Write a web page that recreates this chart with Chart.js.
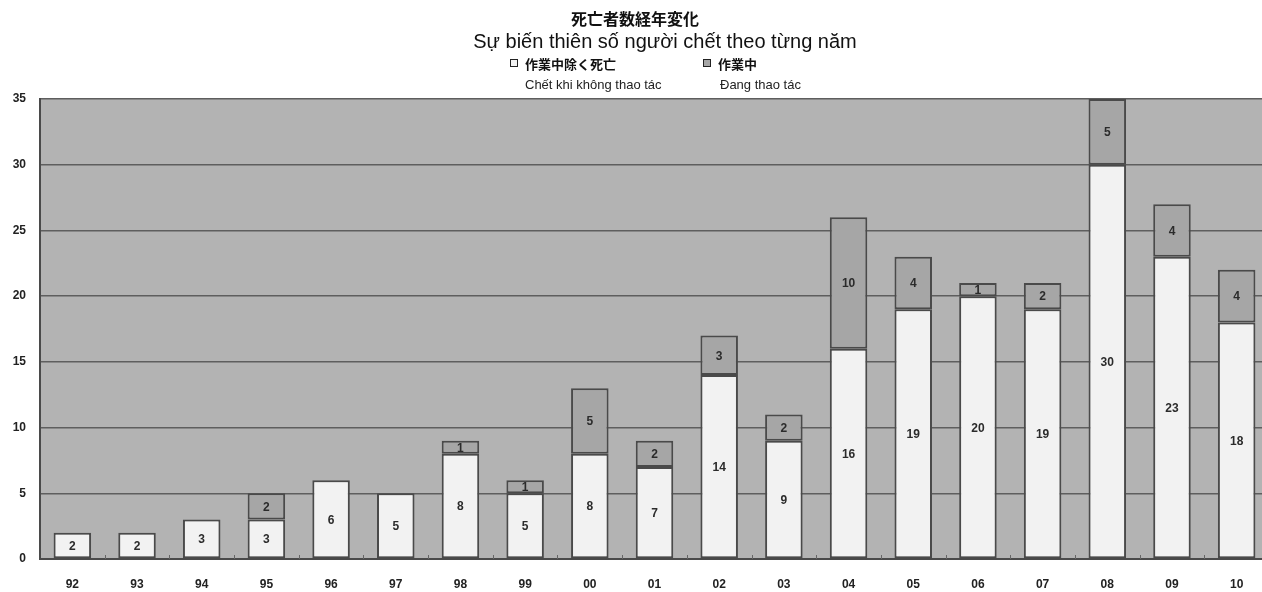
<!DOCTYPE html>
<html>
<head>
<meta charset="utf-8">
<script src="https://cdn.jsdelivr.net/npm/chart.js@4.4.1/dist/chart.umd.min.js"></script>
<style>
  html, body { margin: 0; padding: 0; background: #fff; overflow: hidden; }
  #wrap { position: relative; width: 1270px; height: 592px; }
</style>
</head>
<body>
<div id="wrap"><canvas id="chart"></canvas></div>
<script>
const years = ['92', '93', '94', '95', '96', '97', '98', '99', '00', '01',
  '02', '03', '04', '05', '06', '07', '08', '09', '10'];
const notWorking = [2, 2, 3, 3, 6, 5, 8, 5, 8, 7, 14, 9, 16, 19, 20, 19, 30, 23, 18];
const working = [0, 0, 0, 2, 0, 0, 1, 1, 5, 2, 3, 2, 10, 4, 1, 2, 5, 4, 4];

const titleJa = '死亡者数経年変化';
const titleVi = 'Sự biến thiên số người chết theo từng năm';
const legendJa = ['作業中除く死亡', '作業中'];
const legendVi = ['Chết khi không thao tác', 'Đang thao tác'];

const WHITE = '#f2f2f2';
const GRAY = '#a6a6a6';
const EDGE = '#4a4a4a';
const JA = '"Noto Sans CJK JP", sans-serif';
const VI = '"Liberation Sans", Arial, sans-serif';

// gray plot background
const plotBg = {
  id: 'plotBg',
  beforeDraw(chart) {
    const { ctx, chartArea: a } = chart;
    ctx.save();
    ctx.fillStyle = '#b3b3b3';
    ctx.fillRect(a.left, a.top, a.right - a.left, a.bottom - a.top);
    ctx.restore();
  }
};

// numbers inside each segment
const segLabels = {
  id: 'segLabels',
  afterDatasetsDraw(chart) {
    const { ctx } = chart;
    ctx.save();
    ctx.font = 'bold 12px ' + VI;
    ctx.fillStyle = '#2b2b2b';
    ctx.textAlign = 'center';
    ctx.textBaseline = 'middle';
    chart.data.datasets.forEach((ds, i) => {
      chart.getDatasetMeta(i).data.forEach((el, j) => {
        const v = ds.data[j];
        if (!v) return;
        ctx.fillText(String(v), el.x, (el.y + el.base) / 2 + 1);
      });
    });
    ctx.restore();
  }
};

// small marks between categories, pointing up from the x axis
const catMarks = {
  id: 'catMarks',
  afterDatasetsDraw(chart) {
    const { ctx, chartArea: a } = chart;
    const step = (a.right - a.left) / years.length;
    ctx.save();
    ctx.strokeStyle = '#666';
    ctx.lineWidth = 1;
    for (let i = 1; i < years.length; i++) {
      const px = Math.round(a.left + step * i) + 0.5;
      ctx.beginPath();
      ctx.moveTo(px, a.bottom);
      ctx.lineTo(px, a.bottom - 4);
      ctx.stroke();
    }
    ctx.restore();
  }
};

// title lines and the two-line legend
const header = {
  id: 'header',
  afterDraw(chart) {
    const { ctx } = chart;
    ctx.save();
    ctx.fillStyle = '#111';
    ctx.textAlign = 'center';
    ctx.textBaseline = 'middle';
    ctx.font = 'bold 16px ' + JA;
    ctx.fillText(titleJa, 635, 19);
    ctx.font = '20px ' + VI;
    ctx.fillText(titleVi, 665, 42);

    const boxes = [{ x: 510, fill: WHITE }, { x: 703, fill: GRAY }];
    ctx.textAlign = 'left';
    boxes.forEach((b, i) => {
      ctx.fillStyle = b.fill;
      ctx.fillRect(b.x, 59, 8, 8);
      ctx.strokeStyle = '#222';
      ctx.lineWidth = 1;
      ctx.strokeRect(b.x + 0.5, 59.5, 7, 7);
      ctx.fillStyle = '#111';
      ctx.font = 'bold 13px ' + JA;
      ctx.fillText(legendJa[i], b.x + 15, 64);
      ctx.font = '13px ' + VI;
      ctx.fillStyle = '#222';
      ctx.fillText(legendVi[i], b.x + 15 + (i ? 2 : 0), 85);
    });
    ctx.restore();
  }
};

new Chart(document.getElementById('chart'), {
  type: 'bar',
  data: {
    labels: years,
    datasets: [
      {
        label: legendJa[0],
        data: notWorking,
        backgroundColor: WHITE,
        borderColor: EDGE,
        borderWidth: 2,
        borderSkipped: false,
        categoryPercentage: 1,
        barPercentage: 0.58
      },
      {
        label: legendJa[1],
        data: working,
        backgroundColor: GRAY,
        borderColor: EDGE,
        borderWidth: 2,
        borderSkipped: false,
        categoryPercentage: 1,
        barPercentage: 0.58
      }
    ]
  },
  options: {
    responsive: true,
    maintainAspectRatio: false,
    animation: false,
    layout: { padding: { top: 99, right: 1, left: 0, bottom: 0 } },
    plugins: {
      legend: { display: false },
      title: { display: false },
      tooltip: { enabled: false }
    },
    scales: {
      x: {
        stacked: true,
        afterFit: s => { s.height = 33; },
        grid: { display: false },
        border: { color: EDGE, width: 2 },
        ticks: {
          color: '#222',
          padding: 10,
          font: { family: VI, size: 12, weight: 'bold' }
        }
      },
      y: {
        stacked: true,
        min: 0,
        max: 35,
        afterFit: s => { s.width = 40; },
        border: { color: EDGE, width: 2 },
        grid: { color: '#5e5e5e', lineWidth: 1.5, drawTicks: false },
        ticks: {
          stepSize: 5,
          color: '#222',
          padding: 14,
          font: { family: VI, size: 12, weight: 'bold' }
        }
      }
    }
  },
  plugins: [plotBg, catMarks, segLabels, header]
});
</script>
</body>
</html>
